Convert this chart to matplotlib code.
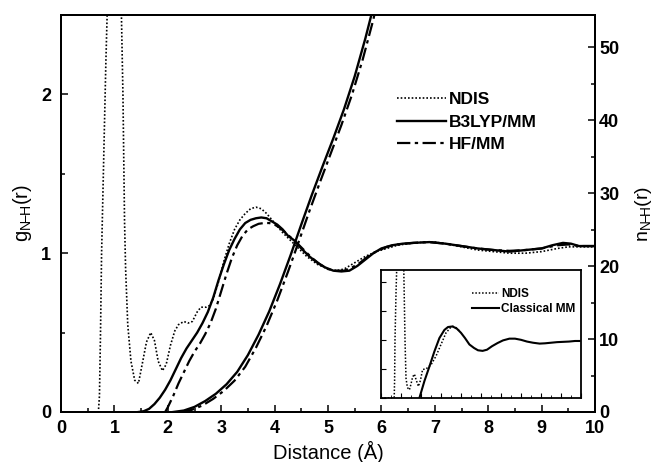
import numpy as np
import matplotlib
matplotlib.use("Agg")
import matplotlib.pyplot as plt
from matplotlib.ticker import MultipleLocator

plt.rcParams['font.family'] = ['Liberation Sans', 'DejaVu Sans']
plt.rcParams['font.weight'] = 'bold'
plt.rcParams['mathtext.fontset'] = 'custom'
plt.rcParams['mathtext.rm'] = 'Liberation Sans:bold'
plt.rcParams['mathtext.it'] = 'Liberation Sans:bold:italic'

# ---- g(r), main panel ----
ndis_r = [0.0, 0.70, 0.72, 0.74, 0.76, 0.80, 0.84, 0.88, 0.98, 1.12, 1.16, 1.19, 1.21, 1.25,
          1.31, 1.38, 1.45, 1.52, 1.60, 1.68, 1.75, 1.82, 1.90, 1.97, 2.05, 2.13, 2.20, 2.30,
          2.38, 2.46, 2.55, 2.62, 2.72, 2.78, 2.85, 2.95, 3.05, 3.15, 3.25, 3.35, 3.45, 3.55,
          3.65, 3.75, 3.85, 3.95, 4.05, 4.15, 4.30, 4.45, 4.60, 4.80, 5.00, 5.15, 5.30, 5.50,
          5.70, 5.90, 6.10, 6.30, 6.50, 6.80, 7.00, 7.20, 7.50, 7.80, 8.10, 8.40, 8.70, 9.00,
          9.30, 9.50, 9.70, 10.0]
ndis_g = [0.0, 0.0, 0.10, 0.50, 1.00, 1.60, 2.20, 2.70, 10.0, 2.70, 2.00, 1.20, 0.90, 0.55,
          0.32, 0.20, 0.18, 0.30, 0.44, 0.50, 0.45, 0.32, 0.26, 0.30, 0.42, 0.51, 0.55, 0.57,
          0.56, 0.57, 0.63, 0.66, 0.66, 0.67, 0.71, 0.82, 0.95, 1.06, 1.15, 1.21, 1.25, 1.28,
          1.29, 1.28, 1.25, 1.21, 1.17, 1.13, 1.08, 1.03, 0.98, 0.93, 0.90, 0.89, 0.90, 0.94,
          0.98, 1.01, 1.03, 1.05, 1.06, 1.07, 1.07, 1.06, 1.04, 1.02, 1.01, 1.00, 1.00, 1.01,
          1.03, 1.04, 1.04, 1.04]

b3lyp_r = [1.45, 1.55, 1.65, 1.75, 1.85, 1.95, 2.05, 2.15, 2.25, 2.35, 2.45, 2.55, 2.65, 2.75,
           2.85, 2.95, 3.05, 3.15, 3.25, 3.35, 3.45, 3.55, 3.65, 3.75, 3.85, 3.95, 4.05, 4.15,
           4.25, 4.37, 4.50, 4.65, 4.80, 4.95, 5.10, 5.25, 5.40, 5.55, 5.70, 5.85, 6.00, 6.20,
           6.40, 6.60, 6.90, 7.20, 7.50, 7.80, 8.10, 8.40, 8.70, 9.00, 9.20, 9.40, 9.55, 9.70,
           9.85, 10.0]
b3lyp_g = [0.0, 0.005, 0.02, 0.05, 0.09, 0.14, 0.20, 0.27, 0.34, 0.40, 0.45, 0.50, 0.56, 0.63,
           0.72, 0.83, 0.93, 1.02, 1.09, 1.15, 1.19, 1.21, 1.22, 1.225, 1.22, 1.20, 1.18, 1.15,
           1.11, 1.08, 1.03, 0.98, 0.94, 0.91, 0.89, 0.885, 0.89, 0.92, 0.96, 1.00, 1.03, 1.05,
           1.06, 1.065, 1.07, 1.06, 1.045, 1.03, 1.02, 1.01, 1.02, 1.03, 1.05, 1.065, 1.06, 1.045,
           1.045, 1.045]

hf_r = [1.95, 2.00, 2.10, 2.20, 2.30, 2.40, 2.50, 2.60, 2.70, 2.80, 2.90, 3.00, 3.10, 3.20,
        3.30, 3.40, 3.50, 3.60, 3.70, 3.80, 3.90, 4.00, 4.10, 4.20, 4.30, 4.40, 4.55, 4.70,
        4.85, 5.00, 5.15, 5.30, 5.45, 5.60, 5.75, 5.90, 6.10, 6.30, 6.60, 6.90, 7.20, 7.50,
        7.80, 8.10, 8.40, 8.70, 9.00, 9.30, 9.50, 9.70, 10.0]
hf_g = [0.0, 0.03, 0.10, 0.18, 0.25, 0.32, 0.38, 0.43, 0.49, 0.56, 0.65, 0.76, 0.87, 0.97,
        1.05, 1.11, 1.15, 1.17, 1.185, 1.19, 1.19, 1.18, 1.16, 1.13, 1.10, 1.07, 1.02, 0.97,
        0.93, 0.90, 0.89, 0.89, 0.91, 0.94, 0.98, 1.01, 1.04, 1.055, 1.065, 1.07, 1.06, 1.045,
        1.03, 1.02, 1.015, 1.02, 1.03, 1.05, 1.055, 1.045, 1.045]

# ---- running coordination number n(r) ----
b3lyp_nr = [2.10, 2.30, 2.50, 2.70, 2.90, 3.10, 3.30, 3.50, 3.70, 3.90, 4.10, 4.30, 4.50, 4.70,
            4.90, 5.10, 5.30, 5.50, 5.70, 5.85]
b3lyp_n = [0.0, 0.2, 0.7, 1.5, 2.5, 3.8, 5.5, 7.8, 10.6, 13.8, 17.5, 21.5, 25.7, 29.8,
           33.7, 37.5, 41.5, 46.0, 51.2, 55.5]
hf_nr = [2.25, 2.45, 2.65, 2.85, 3.05, 3.25, 3.45, 3.65, 3.85, 4.05, 4.25, 4.45, 4.65, 4.85,
         5.05, 5.25, 5.45, 5.65, 5.85, 5.90]
hf_n = [0.0, 0.3, 0.9, 1.8, 2.9, 4.3, 6.2, 8.8, 11.8, 15.3, 19.2, 23.3, 27.5, 31.5,
        35.4, 39.3, 43.5, 48.3, 53.8, 55.5]

# ---- inset: NDIS vs classical MM ----
in_ndis_r = [0.0, 0.66, 0.68, 0.70, 0.75, 0.80, 0.95, 1.13, 1.20, 1.25, 1.32, 1.42, 1.50, 1.58,
             1.67, 1.75, 1.87, 1.97, 2.08, 2.25, 2.50, 2.75, 3.00, 3.25, 3.50, 3.60, 3.75, 3.90]
in_ndis_g = [0.0, 0.0, 0.3, 1.0, 1.8, 2.4, 5.0, 2.4, 1.0, 0.34, 0.18, 0.14, 0.24, 0.36,
             0.41, 0.32, 0.20, 0.30, 0.49, 0.50, 0.57, 0.72, 0.92, 1.12, 1.22, 1.23, 1.21, 1.16]
mm_r = [1.92, 2.17, 2.42, 2.67, 2.92, 3.17, 3.35, 3.58, 3.80, 4.00, 4.20, 4.42, 4.65, 4.85,
        5.08, 5.30, 5.55, 5.83, 6.10, 6.42, 6.70, 7.00, 7.30, 7.60, 7.93, 8.20, 8.50, 8.80,
        9.10, 9.40, 9.70, 9.93]
mm_g = [0.0, 0.29, 0.54, 0.80, 1.03, 1.17, 1.22, 1.23, 1.19, 1.12, 1.03, 0.92, 0.86, 0.82,
        0.81, 0.83, 0.89, 0.945, 0.99, 1.02, 1.02, 1.00, 0.97, 0.95, 0.935, 0.94, 0.95, 0.96,
        0.965, 0.97, 0.98, 0.98]

dotted = (0, (1, 1.2))
dashdot = (0, (6, 2, 1.5, 2))

fig = plt.figure(figsize=(6.55, 4.62), dpi=100)
ax = fig.add_axes([61 / 655, 1 - 412 / 462, 534 / 655, 397 / 462])
ax2 = ax.twinx()

l1, = ax.plot(ndis_r, ndis_g, color='black', lw=1.2, ls=dotted, label='NDIS')
l2, = ax.plot(b3lyp_r, b3lyp_g, color='black', lw=1.7, label='B3LYP/MM')
l3, = ax.plot(hf_r, hf_g, color='black', lw=1.6, ls=dashdot, label='HF/MM')
ax2.plot(b3lyp_nr, b3lyp_n, color='black', lw=1.7)
ax2.plot(hf_nr, hf_n, color='black', lw=1.6, ls=dashdot)

ax.set_xlim(0, 10)
ax.set_ylim(0, 2.5)
ax2.set_ylim(0, 54.4)
ax.xaxis.set_major_locator(MultipleLocator(1))
ax.xaxis.set_minor_locator(MultipleLocator(0.5))
ax.yaxis.set_major_locator(MultipleLocator(1))
ax.yaxis.set_minor_locator(MultipleLocator(0.5))
ax2.yaxis.set_major_locator(MultipleLocator(10))
ax2.yaxis.set_minor_locator(MultipleLocator(5))

for a in (ax, ax2):
    a.tick_params(which='both', direction='in', labelsize=13, width=1.1, top=False)
    a.tick_params(which='major', length=5)
    a.tick_params(which='minor', length=3)
    for s in a.spines.values():
        s.set_linewidth(1.4)
ax.tick_params(right=False, which='both')
ax.tick_params(axis='x', pad=6)
ax.tick_params(axis='y', pad=7)
ax2.tick_params(axis='y', pad=3)

# label positions in pixels, converted to axes fractions
ax.set_xlabel('Distance (Å)', fontsize=14.5)
ax.xaxis.set_label_coords(0.5, -(441 - 412) / 397)
ax.set_ylabel(r'g$_{\mathregular{N\!\!-\!\!H}}$(r)', fontsize=14.5)
ax.yaxis.set_label_coords(-(61 - 34) / 534, 0.5)
ax2.set_ylabel(r'n$_{\mathregular{N\!\!-\!\!H}}$(r)', fontsize=14)
ax2.yaxis.set_label_coords(1 + (633 - 595) / 534, 0.5)

ax2.legend(handles=[l1, l2, l3], loc='upper left', bbox_to_anchor=(397 / 655, 1 - 92 / 462),
           bbox_transform=fig.transFigure, frameon=False, fontsize=12.5, borderpad=0,
           borderaxespad=0, handlelength=2.8, handletextpad=0.2, labelspacing=0.42)

# inset
axi = fig.add_axes([381 / 655, 1 - 398 / 462, 200 / 655, 128 / 462])
axi.set_zorder(5)
axi.set_facecolor('white')
li1, = axi.plot(in_ndis_r, in_ndis_g, color='black', lw=1.1, ls=dotted, label='NDIS')
li2, = axi.plot(mm_r, mm_g, color='black', lw=1.5, label='Classical MM')
axi.set_xlim(0, 10)
axi.set_ylim(0, 2.2)
axi.xaxis.set_major_locator(MultipleLocator(1))
axi.xaxis.set_minor_locator(MultipleLocator(0.5))
axi.yaxis.set_major_locator(MultipleLocator(0.5))
axi.tick_params(which='both', direction='in', labelbottom=False, labelleft=False,
                top=False, right=False)
axi.tick_params(which='major', length=3.5)
axi.tick_params(which='minor', length=2)
for s in axi.spines.values():
    s.set_linewidth(1.3)
axi.legend(handles=[li1, li2], loc='upper left', bbox_to_anchor=(472 / 655, 1 - 288 / 462),
           bbox_transform=fig.transFigure, frameon=False, fontsize=8.5, borderpad=0,
           borderaxespad=0, handlelength=2.3, handletextpad=0.15, labelspacing=0.25)

fig.savefig('out.png', dpi=100)
